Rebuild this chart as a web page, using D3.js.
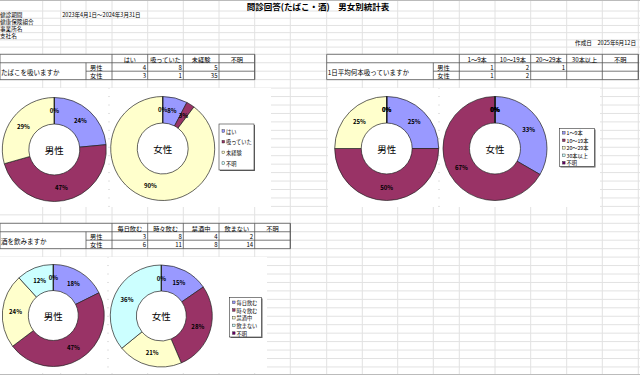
<!DOCTYPE html>
<html>
<head>
<meta charset="utf-8">
<style>
body { margin: 0; background: #fff; }
svg { display: block; font-family: "Noto Sans CJK JP", sans-serif; }
.grid line { stroke: #e2e2e2; stroke-width: 1; }
.tbl line { stroke: #555; stroke-width: 0.8; }
</style>
</head>
<body>
<svg width="640" height="375"></svg>
<script src="https://d3js.org/d3.v7.min.js"></script>
<script>
var svg = d3.select("svg"),
    width = +svg.attr("width"),
    height = +svg.attr("height");

// --- data (read from the sheet) ---
var smokeCats = ["はい", "吸っていた", "未経験", "不明"];
var smokeMale = [4, 8, 5, 0];
var smokeFemale = [3, 1, 35, 0];

var countCats = ["1～9本", "10～19本", "20～29本", "30本以上", "不明"];
var countMale = [1, 2, 1, 0, 0];
var countFemale = [1, 2, 0, 0, 0];

var drinkCats = ["毎日飲む", "時々飲む", "禁酒中", "飲まない", "不明"];
var drinkMale = [3, 8, 4, 2, 0];
var drinkFemale = [6, 11, 8, 14, 0];

var sexes = ["男性", "女性"];
var infoLabels = ["健診期間", "健康保険組合", "事業所名", "支社名"];
var period = "2023年4月1日～2024年3月31日";
var title = "問診回答(たばこ・酒)　男女別統計表";
var created = "作成日　2025年6月12日";

var colors = ["#9999ff", "#993366", "#ffffcc", "#ccffff", "#660066"];

// --- sheet layout ---
var colX = [0, 42.7, 60.7, 86, 112, 147.7, 183.3, 219, 254.7, 290.3, 326.7,
            362.3, 397.7, 433.3, 459.3, 495, 530.7, 566.7, 602.3, 638.3];
var rowY = [];
for (var k = 0; k < 6; k++) rowY.push(11 + k * 7.22);
for (var y = 54.3; y < height; y += 8.45) rowY.push(y);

var grid = svg.append("g").attr("class", "grid");
grid.selectAll(".v").data(colX.slice(1)).enter().append("line")
    .attr("x1", function(d) { return d; }).attr("x2", function(d) { return d; })
    .attr("y1", 0).attr("y2", height);
grid.selectAll(".h").data(rowY).enter().append("line")
    .attr("x1", 0).attr("x2", width)
    .attr("y1", function(d) { return d; }).attr("y2", function(d) { return d; });

svg.append("line").attr("x1", 0).attr("x2", width).attr("y1", 0.5).attr("y2", 0.5)
    .attr("stroke", "#bbb");
svg.append("line").attr("x1", 0).attr("x2", width).attr("y1", 374.5).attr("y2", 374.5)
    .attr("stroke", "#bbb");

// header texts
svg.append("text").attr("x", 318).attr("y", 6).attr("text-anchor", "middle")
    .attr("dominant-baseline", "central").attr("font-size", 8.5).attr("font-weight", "bold")
    .text(title);
svg.selectAll(".info").data(infoLabels).enter().append("text")
    .attr("x", 0).attr("y", function(d, i) { return (rowY[i] + rowY[i + 1]) / 2; })
    .attr("dominant-baseline", "central").attr("font-size", 5.6)
    .text(function(d) { return d; });
svg.append("text").attr("x", 62.3).attr("y", (rowY[0] + rowY[1]) / 2)
    .attr("dominant-baseline", "central").attr("font-size", 5.5).text(period);
svg.append("text").attr("x", 636).attr("y", (rowY[4] + rowY[5]) / 2).attr("text-anchor", "end")
    .attr("dominant-baseline", "central").attr("font-size", 5.6).text(created);

// --- tables ---
function drawTable(edges, top, question, cats, male, female) {
  // edges: [left, sexStart, valueStart, ..., right]
  var g = svg.append("g").attr("class", "tbl");
  var r0 = rowY[top], r1 = rowY[top + 1], r2 = rowY[top + 2], r3 = rowY[top + 3];
  var L = edges[0], S = edges[1], V = edges.slice(2), R = V[V.length - 1];
  g.append("rect").attr("x", L).attr("y", r0).attr("width", R - L).attr("height", r3 - r0)
      .attr("fill", "#fff");
  function ln(x1, y1, x2, y2) {
    g.append("line").attr("x1", x1).attr("y1", y1).attr("x2", x2).attr("y2", y2);
  }
  ln(L, r0, R, r0); ln(L, r1, R, r1); ln(S, r2, R, r2); ln(L, r3, R, r3);
  ln(L, r0, L, r3); ln(S, r1, S, r3); ln(R, r0, R, r3);
  V.forEach(function(x) { ln(x, r0, x, r3); });
  g.selectAll(".hd").data(cats).enter().append("text")
      .attr("x", function(d, i) { return (V[i] + V[i + 1]) / 2; })
      .attr("y", (r0 + r1) / 2 + 0.5).attr("text-anchor", "middle")
      .attr("dominant-baseline", "central").attr("font-size", 6.2)
      .text(function(d) { return d; });
  g.append("text").attr("x", L + 1).attr("y", (r1 + r3) / 2 + 1)
      .attr("dominant-baseline", "central").attr("font-size", 6.5).text(question);
  [male, female].forEach(function(vals, j) {
    var ya = j ? r2 : r1, yb = j ? r3 : r2;
    g.append("text").attr("x", S + 4).attr("y", (ya + yb) / 2 + 0.5)
        .attr("dominant-baseline", "central").attr("font-size", 6.2).text(sexes[j]);
    g.selectAll(".v" + j).data(vals).enter().append("text")
        .attr("x", function(d, i) { return V[i + 1] - 1.5; })
        .attr("y", (ya + yb) / 2 + 0.5).attr("text-anchor", "end")
        .attr("dominant-baseline", "central").attr("font-size", 6)
        .text(function(d) { return d > 0 ? d : ""; });
  });
}

drawTable([0, 86, 112, 147.7, 183.3, 219, 254.7], 6, "たばこを吸いますか",
          smokeCats, smokeMale, smokeFemale);
drawTable([326.7, 433.3, 459.3, 495, 530.7, 566.7, 602.3, 638.3], 6, "1日平均何本吸っていますか",
          countCats, countMale, countFemale);
drawTable([0, 86, 112, 147.7, 183.3, 219, 254.7, 290.3], 26, "酒を飲みますか",
          drinkCats, drinkMale, drinkFemale);

// --- chart areas (white, hide sheet grid) ---
var areas = [[0, 88, 108, 119], [110, 88, 161, 119], [328, 88, 110, 119], [440, 88, 160, 119],
             [0, 257, 107, 116], [109, 257, 158, 116]];
svg.selectAll(".area").data(areas).enter().append("rect")
    .attr("x", function(d) { return d[0]; }).attr("y", function(d) { return d[1]; })
    .attr("width", function(d) { return d[2]; }).attr("height", function(d) { return d[3]; })
    .attr("fill", "#fff");

// --- donuts ---
var pie = d3.pie().sort(null).value(function(d) { return d; });
var pct = d3.format(".0%");

function donut(vals, name, cx, cy, R) {
  var arc = d3.arc().innerRadius(R * 0.49).outerRadius(R);
  var total = d3.sum(vals);
  var g = svg.append("g").attr("transform", "translate(" + cx + "," + cy + ")");
  var arcs = pie(vals);
  g.selectAll("path").data(arcs).enter().append("path")
      .attr("d", arc)
      .attr("fill", function(d, i) { return colors[i]; })
      .attr("stroke", "#222").attr("stroke-width", 0.7);
  g.selectAll(".lb").data(arcs).enter().append("text")
      .attr("transform", function(d) { return "translate(" + arc.centroid(d) + ")"; })
      .attr("text-anchor", "middle").attr("dominant-baseline", "central")
      .attr("font-size", 6).attr("font-weight", "bold")
      .text(function(d) { return pct(d.value / total); });
  g.append("text").attr("text-anchor", "middle").attr("dominant-baseline", "central")
      .attr("font-size", 9.5).text(name);
}

donut(smokeMale, "男性", 54.3, 149.5, 52);
donut(smokeFemale, "女性", 162.7, 148.5, 52);
donut(countMale, "男性", 386.7, 148.5, 52);
donut(countFemale, "女性", 495, 148.5, 52);
donut(drinkMale, "男性", 53.3, 315.5, 51);
donut(drinkFemale, "女性", 161.3, 316, 51);

// --- legends ---
function legend(cats, x, y, w, h, step, first) {
  var g = svg.append("g");
  g.append("rect").attr("x", x + 1).attr("y", y + 1).attr("width", w).attr("height", h)
      .attr("fill", "#666");
  g.append("rect").attr("x", x).attr("y", y).attr("width", w).attr("height", h)
      .attr("fill", "#fff").attr("stroke", "#333").attr("stroke-width", 0.6);
  var it = g.selectAll(".it").data(cats).enter().append("g")
      .attr("transform", function(d, i) { return "translate(" + (x + 3) + "," + (y + first + i * step) + ")"; });
  it.append("rect").attr("x", 0).attr("y", -1.3).attr("width", 2.6).attr("height", 2.6)
      .attr("fill", function(d, i) { return colors[i]; })
      .attr("stroke", "#222").attr("stroke-width", 0.4);
  it.append("text").attr("x", 4).attr("dominant-baseline", "central")
      .attr("font-size", 5.2).text(function(d) { return d; });
}

legend(smokeCats, 219, 124, 35, 46, 10.7, 7);
legend(countCats, 559.5, 128.5, 35, 38, 7.5, 4.3);
legend(drinkCats, 229.5, 297.5, 32, 39.5, 7.7, 4.8);
</script>
</body>
</html>
